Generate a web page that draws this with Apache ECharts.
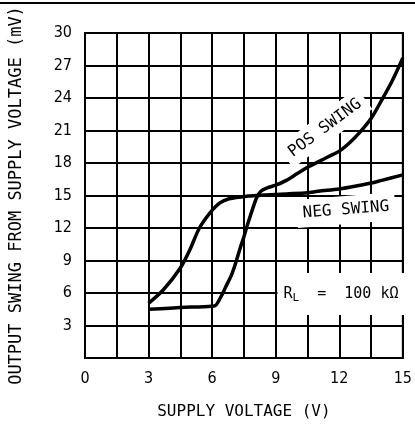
<!DOCTYPE html>
<html>
<head>
<meta charset="utf-8">
<script src="https://cdn.jsdelivr.net/npm/echarts@6/dist/echarts.min.js"></script>
<style>html,body{margin:0;padding:0;background:#fff;}#c{width:415px;height:427px;}</style>
</head>
<body>
<div id="c"></div>
<script>
// Data
var xTicks = [0, 3, 6, 9, 12, 15];
var yTicks = [3, 6, 9, 12, 15, 18, 21, 24, 27, 30];
var posSwing = [[3,4.5],[4,4.6],[5,4.7],[6.1,4.8],[6.4,5.6],[6.65,6.6],[6.9,7.6],[7.1,8.7],[7.3,10],[7.5,11.2],[7.7,12.5],[7.9,13.7],[8.1,14.8],[8.3,15.4],[8.6,15.7],[9,15.95],[9.5,16.4],[10,17.0],[10.5,17.6],[11,18.1],[11.5,18.6],[12,19.1],[12.5,19.9],[13,20.9],[13.5,22.1],[14,23.8],[14.5,25.6],[15,27.7]];
var negSwing = [[3,5.05],[3.7,6.3],[4.5,8.3],[4.95,10],[5.4,12],[5.9,13.4],[6.35,14.3],[6.8,14.7],[7.7,14.95],[8.5,15.05],[9.5,15.15],[10.5,15.25],[11,15.4],[12,15.6],[13,15.95],[13.5,16.15],[14,16.4],[15,16.9]];

var FONT = 'DejaVu Sans Mono, monospace';
var TICKFONT = 'Liberation Sans Narrow, DejaVu Sans Condensed, DejaVu Sans Mono, sans-serif';
var chart = echarts.init(document.getElementById('c'));
chart.setOption({
  animation: false,
  backgroundColor: '#fff',
  grid: {left: 83, right: 9, top: 33, bottom: 69, show: true, borderColor: '#000', borderWidth: 2},
  xAxis: {
    type: 'value', min: 0, max: 15, interval: 1.5,
    name: 'SUPPLY VOLTAGE (V)', nameLocation: 'middle', nameGap: 46,
    nameTextStyle: {color: '#000', fontFamily: FONT, fontSize: 16},
    axisLine: {show: true, lineStyle: {color: '#000', width: 2}},
    axisTick: {show: false},
    axisLabel: {color: '#000', fontFamily: TICKFONT, fontSize: 16, margin: 13,
      formatter: function (v) { return xTicks.indexOf(v) >= 0 ? String(v) : ''; }},
    splitLine: {show: true, lineStyle: {color: '#000', width: 2}}
  },
  yAxis: {
    type: 'value', min: 0, max: 30, interval: 3,
    name: 'OUTPUT SWING FROM SUPPLY VOLTAGE (mV)', nameLocation: 'middle', nameGap: 60,
    nameTextStyle: {color: '#000', fontFamily: FONT, fontSize: 17},
    axisLine: {show: true, lineStyle: {color: '#000', width: 2}},
    axisTick: {show: false},
    axisLabel: {color: '#000', fontFamily: TICKFONT, fontSize: 16, margin: 13,
      formatter: function (v) { return yTicks.indexOf(v) >= 0 ? String(v) : ''; }},
    splitLine: {show: true, lineStyle: {color: '#000', width: 2}}
  },
  series: [
    {name: 'POS SWING', type: 'line', data: posSwing, smooth: 0.3, showSymbol: false,
     lineStyle: {color: '#000', width: 3.5}, z: 5},
    {name: 'NEG SWING', type: 'line', data: negSwing, smooth: 0.3, showSymbol: false,
     lineStyle: {color: '#000', width: 3.5}, z: 5}
  ],
  graphic: [
    {type: 'line', shape: {x1: 0, y1: 3, x2: 415, y2: 3}, style: {stroke: '#000', lineWidth: 2}},
    {type: 'text', x: 325, y: 128, rotation: 0.64, z: 3,
     style: {text: 'POS SWING', fill: '#000', font: '16px ' + FONT, align: 'center', verticalAlign: 'middle',
       backgroundColor: '#fff', padding: [5, 6]}},
    {type: 'text', x: 346, y: 210, rotation: 0.08, z: 3,
     style: {text: 'NEG SWING', fill: '#000', font: '16px ' + FONT, align: 'center', verticalAlign: 'middle',
       backgroundColor: '#fff', padding: [7, 6, 5, 6]}},
    {type: 'text', x: 341, y: 294, z: 3,
     style: {text: '{r|R}{s|L}{r|  =  100 kΩ}', align: 'center', verticalAlign: 'middle',
       backgroundColor: '#fff', padding: [11, 6, 11, 6],
       rich: {r: {fill: '#000', font: '15px ' + FONT}, s: {fill: '#000', font: '11px ' + FONT, verticalAlign: 'bottom', padding: [9, 0, 0, 0]}}}}
  ]
});
</script>
</body>
</html>
